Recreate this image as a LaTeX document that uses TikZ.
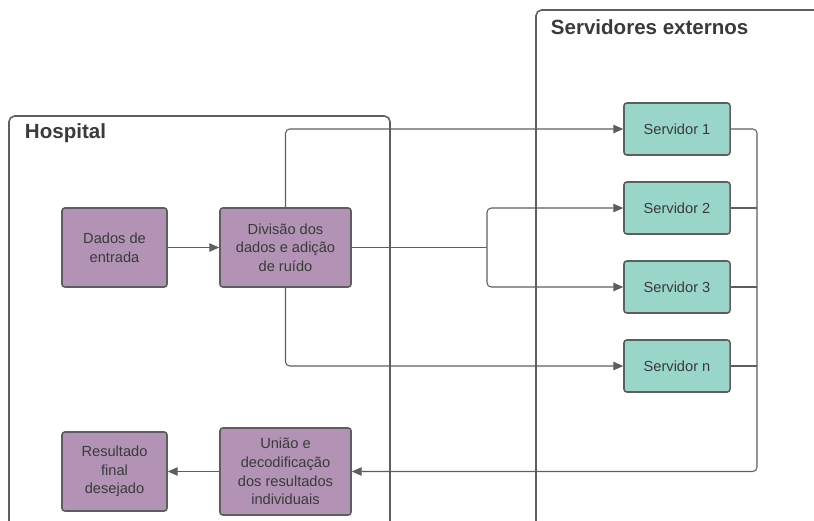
\documentclass[tikz,border=0pt]{standalone}
\usepackage{fontspec}
\setmainfont{Liberation Sans}
\usetikzlibrary{arrows.meta}

\definecolor{roxo}{HTML}{B293B5}
\definecolor{verde}{HTML}{9AD5CA}
\definecolor{borda}{HTML}{5E5E5E}
\definecolor{texto}{HTML}{3A3A3A}

\begin{document}
\begin{tikzpicture}[x=0.025cm, y=-0.025cm,
    caixa/.style={draw=borda, line width=1.1pt, rounded corners=2pt, align=center,
      text=texto, font=\fontsize{10.4}{13.3}\selectfont, inner sep=2pt},
    hosp/.style={caixa, fill=roxo},
    serv/.style={caixa, fill=verde, minimum width=2.65cm, minimum height=1.3cm},
    linha/.style={draw=borda, line width=0.75pt, rounded corners=3pt},
    seta/.style={linha, -{Triangle[width=6pt, length=7pt]}},
    grupo/.style={draw=borda, line width=1.1pt, rounded corners=4pt},
    titulo/.style={anchor=west, text=texto, font=\fontsize{14.6}{17}\selectfont\bfseries}]
  \useasboundingbox (0,0) rectangle (814,520);

  % containers
  \draw[grupo] (9,530) -- (9,116) -- (390,116) -- (390,530);
  \node[titulo] (thosp) at (20,133) {Hospital};
  \draw[grupo] (536,530) -- (536,10) -- (830,10);
  \node[titulo] (tserv) at (546,27) {Servidores externos};

  % hospital
  \node[hosp, minimum width=2.625cm, minimum height=1.975cm] (dados) at (114.5,247.5) {Dados de\\entrada};
  \node[hosp, minimum width=3.275cm, minimum height=1.975cm] (divisao) at (285.5,247.5) {Divisão dos\\dados e adição\\de ruído};
  \node[hosp, minimum width=3.275cm, minimum height=2.175cm] (uniao) at (285.5,471.5) {União e\\decodificação\\dos resultados\\individuais};
  \node[hosp, minimum width=2.625cm, minimum height=1.975cm] (resultado) at (114.5,471.5) {Resultado\\final\\desejado};

  % servidores
  \node[serv] (serv1) at (677,129) {Servidor 1};
  \node[serv] (serv2) at (677,208) {Servidor 2};
  \node[serv] (serv3) at (677,287) {Servidor 3};
  \node[serv] (servn) at (677,366) {Servidor n};

  \coordinate (ramo) at (487,247.5);
  \coordinate (coleta) at (757,471.5);

  % envio
  \draw[seta] (dados) -- (divisao);
  \draw[seta] (divisao.north) |- (serv1.west);
  \draw[linha] (divisao.east) -- (ramo);
  \draw[seta] (ramo) |- (serv2.west);
  \draw[seta] (ramo) |- (serv3.west);
  \draw[seta] (divisao.south) |- (servn.west);

  % retorno
  \draw[seta] (serv1.east) -| (coleta) -- (uniao.east);
  \draw[linha] (serv2.east) -- (serv2.east -| coleta);
  \draw[linha] (serv3.east) -- (serv3.east -| coleta);
  \draw[linha] (servn.east) -- (servn.east -| coleta);
  \draw[seta] (uniao) -- (resultado);
\end{tikzpicture}
\end{document}
